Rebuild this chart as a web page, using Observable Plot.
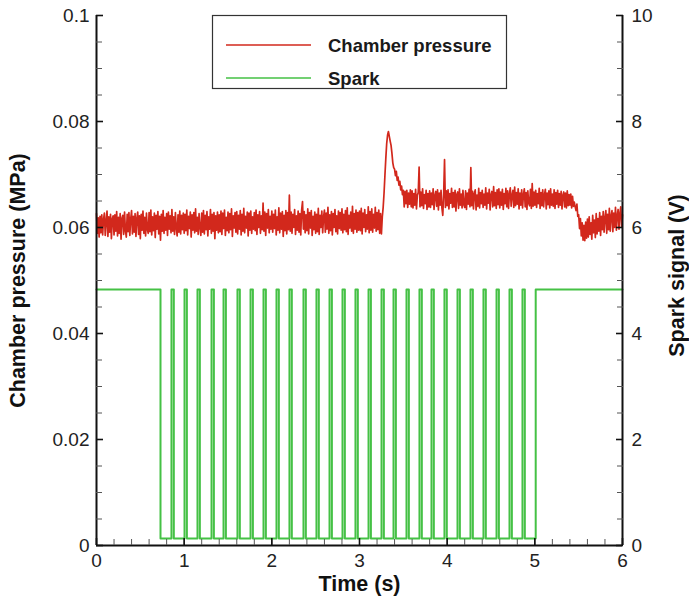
<!DOCTYPE html>
<html>
<head>
<meta charset="utf-8">
<script src="https://cdn.jsdelivr.net/npm/d3@7"></script>
<script src="https://cdn.jsdelivr.net/npm/@observablehq/plot@0.6"></script>
<style>
  html, body { margin: 0; padding: 0; background: #fff; }
  #chart svg { display: block; }
</style>
</head>
<body>
<div id="chart"></div>
<script>
// ---- Data ----
// Chamber pressure in kPa, sampled every 0.01 s from t = 0 to t = 6 s
const pressureKPa = [
  62.6,58.9,61.8,58.2,62.1,59.0,62.4,58.6,61.5,62.7,58.5,61.2,63.1,58.3,62.0,59.1,62.5,57.9,61.6,62.2,
  58.6,62.4,59.3,63.0,58.4,61.9,58.9,62.6,57.8,61.7,62.3,58.7,62.9,59.4,58.2,62.5,59.2,62.8,58.5,61.6,
  63.2,58.8,62.1,59.1,62.6,58.3,61.7,62.9,58.7,62.2,57.9,62.5,59.5,63.1,58.9,61.9,58.4,62.7,59.6,58.9,
  62.8,59.2,63.3,58.6,62.0,59.4,62.7,58.1,62.3,59.7,63.0,58.8,62.1,57.6,62.5,59.3,63.2,58.9,61.9,59.5,
  62.6,58.5,62.9,59.7,62.2,59.0,63.4,59.3,62.0,58.7,62.8,59.9,58.4,62.4,59.1,63.1,58.8,62.3,59.6,62.7,
  58.9,62.5,59.4,63.3,58.6,62.1,59.8,62.9,58.2,62.4,59.5,62.8,59.0,63.5,59.3,61.9,58.7,62.6,60.0,58.5,
  62.7,59.1,63.2,58.8,62.3,59.6,63.0,58.4,62.0,59.7,63.4,58.9,62.5,59.3,62.8,57.9,62.2,59.5,62.9,59.0,
  62.4,59.2,63.1,58.7,62.7,59.8,63.3,58.5,61.9,59.4,62.9,59.0,62.6,59.6,63.5,58.3,62.2,59.9,62.8,59.1,
  63.0,58.8,62.3,59.7,63.2,58.6,62.5,59.3,63.6,59.0,62.1,59.9,62.9,58.4,62.7,59.5,63.1,58.9,62.0,59.7,
  62.8,59.4,63.3,58.7,62.4,60.0,63.0,58.9,62.2,59.6,64.6,59.3,62.9,58.5,62.6,59.9,63.4,59.0,62.1,59.7,
  63.1,59.1,62.5,59.8,63.3,58.6,62.0,59.5,63.7,59.0,62.7,59.7,63.0,58.3,62.3,59.4,63.2,58.8,62.8,59.6,
  66.1,59.3,62.9,58.9,62.5,60.0,63.4,58.7,62.2,59.5,63.1,59.1,62.6,58.6,63.3,64.9,59.7,63.0,59.0,62.4,
  59.4,63.5,58.8,62.8,59.9,63.2,58.5,62.1,59.6,62.9,58.9,62.5,59.2,63.6,58.7,62.3,60.0,63.1,59.0,62.0,
  63.3,59.1,62.7,59.7,63.8,58.9,62.4,59.4,63.0,58.6,62.6,60.0,63.4,59.2,62.2,58.8,63.1,59.8,62.8,59.5,
  63.5,59.0,62.5,59.6,63.2,59.2,63.7,58.7,62.3,59.9,62.9,59.3,64.0,58.9,62.6,59.7,63.3,59.1,62.8,59.5,
  63.1,59.4,63.6,58.8,62.7,60.0,63.4,59.2,62.4,59.7,63.9,59.0,63.0,59.5,63.5,59.1,62.5,59.9,63.8,59.3,
  62.8,59.6,63.3,58.9,62.6,58.8,62.0,63.8,66.5,69.8,73.0,75.8,77.4,78.1,77.2,76.3,75.5,74.0,72.2,71.3,
  71.0,69.8,70.6,68.9,69.5,68.0,68.7,67.1,67.8,66.2,67.0,63.9,66.8,64.5,67.0,63.8,66.5,64.4,67.1,63.9,
  66.9,63.7,66.4,64.2,67.2,63.5,66.1,66.6,71.4,63.9,66.7,64.1,67.3,63.6,66.2,64.5,67.0,63.4,66.4,63.9,
  66.9,63.8,66.5,64.3,67.3,63.4,66.0,66.8,64.0,67.1,63.3,66.5,64.2,67.0,63.7,62.3,66.3,72.8,63.8,66.9,
  64.1,67.1,63.5,66.4,64.6,67.4,63.8,66.6,63.9,67.0,63.1,66.2,66.7,63.6,67.3,64.2,66.3,63.7,67.0,64.3,
  63.8,66.9,63.4,66.5,64.4,67.2,63.9,71.3,64.1,66.8,63.5,66.4,67.1,63.3,66.1,64.0,67.4,63.7,66.6,64.5,
  67.0,63.8,66.3,64.2,67.5,63.5,66.5,64.6,67.2,63.3,66.2,66.8,63.9,67.7,64.1,66.6,63.6,67.1,64.3,67.3,
  63.7,66.7,64.2,67.2,63.4,66.4,64.5,67.4,63.9,66.9,63.6,66.3,67.5,64.0,66.1,67.0,63.8,67.6,64.1,66.6,
  64.4,67.3,63.5,66.5,64.2,67.1,63.7,66.2,67.3,63.9,66.6,63.4,66.9,64.6,64.1,67.2,63.6,68.3,64.0,66.7,
  64.2,67.0,63.8,66.4,64.5,67.4,63.6,66.6,64.1,67.1,63.9,66.2,67.2,63.5,66.5,64.3,66.9,63.7,67.3,64.2,
  66.3,64.0,67.1,63.6,66.6,64.4,67.0,63.8,66.4,64.2,66.8,63.5,66.1,66.7,63.9,66.5,63.7,66.9,64.1,66.2,
  64.2,66.3,63.7,65.9,64.0,64.8,63.9,63.2,64.4,62.1,62.4,59.8,61.7,58.4,60.9,57.6,60.4,57.5,61.0,58.0,
  61.6,58.2,62.0,58.7,60.9,57.8,62.3,59.0,61.4,58.1,62.6,58.8,61.7,59.3,62.8,58.5,62.1,59.6,63.0,59.1,
  61.8,63.2,58.9,62.5,59.6,63.6,59.3,62.2,63.2,59.2,62.7,60.0,63.8,59.5,62.3,63.4,59.7,62.6,63.9,60.1,
  62.4
];
const sampleStep = 0.01; // s

// Spark signal (V): levels and switching times (s)
const sparkHigh = 4.83;
const sparkLow = 0.13;
const sparkFirstDrop = 0.73;
const sparkFinalRise = 5.01;
const pulseStarts = [0.855, 1.004, 1.152, 1.312, 1.449, 1.608, 1.757, 1.905, 2.053, 2.201,
  2.361, 2.509, 2.658, 2.806, 2.954, 3.103, 3.251, 3.388, 3.536, 3.684, 3.821, 3.969, 4.118,
  4.266, 4.414, 4.563, 4.711, 4.859];
const pulseWidth = 0.027;

// Axis ticks
const xTicks = [0, 1, 2, 3, 4, 5, 6];
const yTicksMPa = [0, 0.02, 0.04, 0.06, 0.08, 0.1];
const yTicksV = [0, 2, 4, 6, 8, 10];
const seriesNames = ["Chamber pressure", "Spark"];
const seriesColors = ["#d2281c", "#45c145"];

// ---- Build tables ----
const pressure = pressureKPa.map((v, i) => ({ t: +(i * sampleStep).toFixed(2), p: v / 1000 }));
const VOLT_TO_AXIS = 1 / 100; // 10 V spans the same height as 0.1 MPa
const spark = [{ t: 0, v: sparkHigh }, { t: sparkFirstDrop, v: sparkHigh }, { t: sparkFirstDrop, v: sparkLow }];
for (const s of pulseStarts) {
  spark.push({ t: s, v: sparkLow }, { t: s, v: sparkHigh }, { t: s + pulseWidth, v: sparkHigh }, { t: s + pulseWidth, v: sparkLow });
}
spark.push({ t: sparkFinalRise, v: sparkLow }, { t: sparkFinalRise, v: sparkHigh }, { t: 6, v: sparkHigh });

const xMinor = d3.range(0, 6.0001, 0.2);
const yMinor = d3.range(0, 0.10001, 0.005);

const font = "'Liberation Sans', Arial, Helvetica, sans-serif";

const tickOnly = (axis, ticks, anchor, size, stroke, sw) =>
  axis(ticks, { anchor, tickSize: size, stroke, strokeWidth: sw, fill: "none", label: null, tickFormat: () => "" });

const chart = Plot.plot({
  width: 689,
  height: 596,
  marginLeft: 96,
  marginRight: 67,
  marginTop: 15,
  marginBottom: 51,
  style: { fontFamily: font, background: "#fff", color: "#1a1a1a" },
  x: { domain: [0, 6], axis: null },
  y: { domain: [0, 0.1], axis: null },
  marks: [
    // data
    Plot.line(spark, { x: "t", y: d => d.v * VOLT_TO_AXIS, stroke: seriesColors[1], strokeWidth: 2 }),
    Plot.line(pressure, { x: "t", y: "p", stroke: seriesColors[0], strokeWidth: 1.7 }),
    // axis lines
    Plot.ruleX([0, 6], { stroke: "#111", strokeWidth: 2 }),
    Plot.ruleY([0], { stroke: "#111", strokeWidth: 2 }),
    // minor ticks (inward)
    tickOnly(Plot.axisX, xMinor, "bottom", -6, "#555", 1),
    tickOnly(Plot.axisY, yMinor, "left", -6, "#555", 1),
    tickOnly(Plot.axisY, yMinor, "right", -6, "#555", 1),
    // major ticks (inward)
    tickOnly(Plot.axisX, xTicks, "bottom", -7, "#111", 1.6),
    tickOnly(Plot.axisY, yTicksMPa, "left", -7, "#111", 1.6),
    tickOnly(Plot.axisY, yTicksMPa, "right", -7, "#111", 1.6),
    // tick labels
    Plot.axisX(xTicks, { anchor: "bottom", tickSize: 0, tickPadding: 8, fontSize: 19, fill: "#222", label: null }),
    Plot.axisY(yTicksMPa, { anchor: "left", tickSize: 0, tickPadding: 7, fontSize: 19, fill: "#222", label: null, tickFormat: d => String(d) }),
    Plot.axisY(yTicksV.map(v => v * VOLT_TO_AXIS), { anchor: "right", tickSize: 0, tickPadding: 9, fontSize: 19, fill: "#222", label: null, tickFormat: d => String(Math.round(d / VOLT_TO_AXIS)) }),
    // axis titles
    Plot.text(["Time (s)"], { frameAnchor: "bottom", dy: 39, textAnchor: "middle", lineAnchor: "middle", fontSize: 21.5, fontWeight: "bold", fill: "#111" }),
    Plot.text(["Chamber pressure (MPa)"], { frameAnchor: "left", dx: -78, rotate: -90, textAnchor: "middle", lineAnchor: "middle", fontSize: 21.5, fontWeight: "bold", fill: "#111" }),
    Plot.text(["Spark signal (V)"], { frameAnchor: "right", dx: 55, dy: -5, rotate: -90, textAnchor: "middle", lineAnchor: "middle", fontSize: 21.5, fontWeight: "bold", fill: "#111" })
  ]
});

// Legend box (inside the plot area, top)
const svg = d3.select(chart);
const lg = svg.append("g").attr("font-family", font).attr("text-anchor", "start");
lg.append("rect").attr("x", 212.5).attr("y", 15.5).attr("width", 294).attr("height", 73)
  .attr("fill", "#fff").attr("stroke", "#333").attr("stroke-width", 1.2);
seriesNames.forEach((name, i) => {
  const y = 45 + i * 33;
  lg.append("line").attr("x1", 226).attr("x2", 311).attr("y1", y).attr("y2", y)
    .attr("stroke", seriesColors[i]).attr("stroke-width", 1.6);
  lg.append("text").attr("x", 328).attr("y", y + 6.5).attr("font-size", 18.5).attr("font-weight", "bold")
    .attr("text-anchor", "start").attr("fill", "#1a1a1a").text(name);
});

document.getElementById("chart").appendChild(chart);
</script>
</body>
</html>
